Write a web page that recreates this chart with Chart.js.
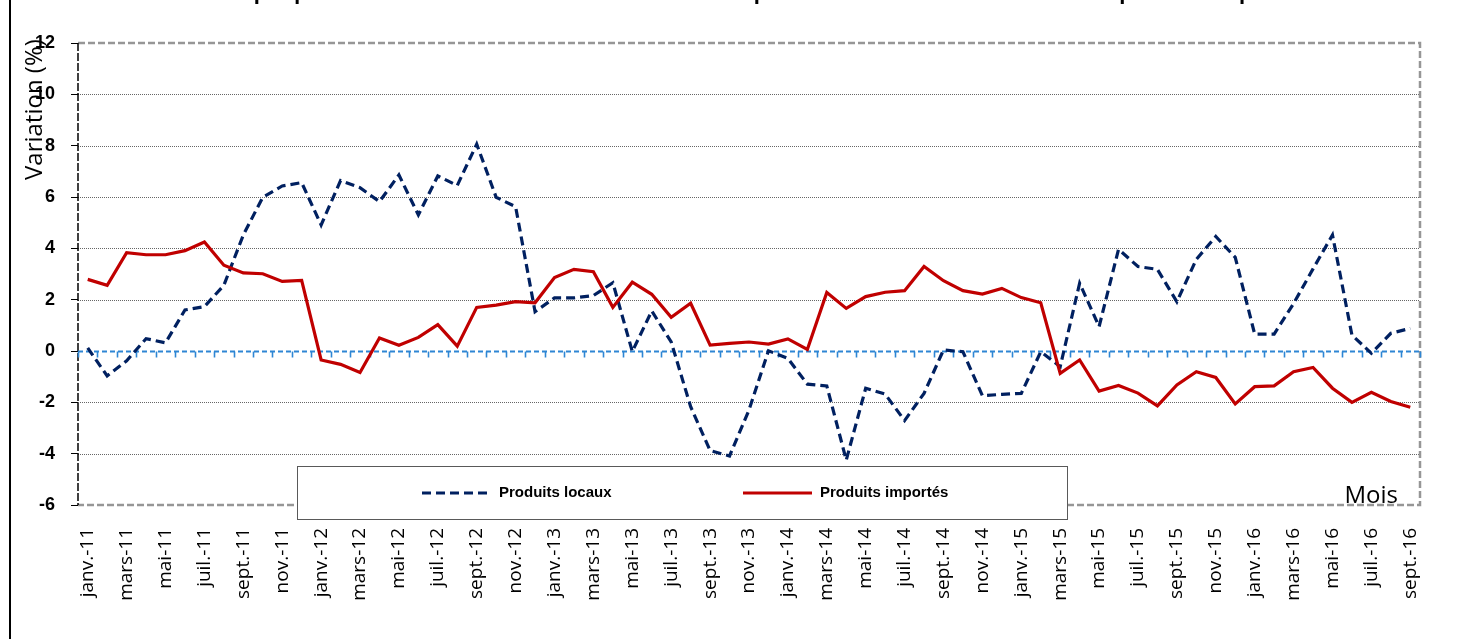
<!DOCTYPE html>
<html lang="fr">
<head>
<meta charset="utf-8">
<title>Produits locaux et produits importés</title>
<script src="https://cdn.jsdelivr.net/npm/chart.js@4.4.1/dist/chart.umd.min.js"></script>
<style>
    html, body { margin: 0; padding: 0; background: #fff; overflow: hidden; }
    #wrap { position: relative; width: 1471px; height: 639px; }
</style>
</head>
<body>
<div id="wrap"><canvas id="mainChart"></canvas></div>
<script>
// Catégories (mois de janv.-11 à sept.-16)
const moisNoms = ['janv.', 'févr.', 'mars', 'avr.', 'mai', 'juin', 'juil.', 'août', 'sept.', 'oct.', 'nov.', 'déc.'];
const annees = ['11', '12', '13', '14', '15', '16'];
const dernierMois = 9; // sept.-16

// Séries (variation en %)
const produitsLocaux = [
    0.12, -0.97, -0.38, 0.48, 0.32, 1.60, 1.73, 2.56, 4.52, 5.99, 6.43, 6.56,
    4.91, 6.64, 6.36, 5.82, 6.86, 5.30, 6.82, 6.45, 8.06, 5.99, 5.62, 1.53,
    2.07, 2.07, 2.16, 2.66, -0.02, 1.56, 0.35, -2.17, -3.88, -4.09, -2.30, 0.01,
    -0.29, -1.29, -1.36, -4.25, -1.45, -1.68, -2.71, -1.65, 0.04, -0.03, -1.74, -1.69,
    -1.65, -0.03, -0.61, 2.64, 0.95, 3.96, 3.29, 3.18, 1.92, 3.57, 4.46, 3.65,
    0.66, 0.66, 1.85, 3.20, 4.52, 0.62, -0.09, 0.69, 0.88
];
const produitsImportes = [
    2.79, 2.56, 3.83, 3.75, 3.75, 3.91, 4.25, 3.34, 3.04, 3.01, 2.71, 2.75,
    -0.35, -0.52, -0.84, 0.51, 0.22, 0.53, 1.03, 0.19, 1.70, 1.79, 1.92, 1.88,
    2.86, 3.18, 3.09, 1.70, 2.68, 2.21, 1.31, 1.86, 0.23, 0.30, 0.35, 0.27,
    0.47, 0.06, 2.28, 1.66, 2.12, 2.29, 2.35, 3.29, 2.74, 2.35, 2.22, 2.44,
    2.08, 1.88, -0.87, -0.35, -1.56, -1.34, -1.64, -2.14, -1.32, -0.81, -1.03, -2.06,
    -1.39, -1.36, -0.81, -0.64, -1.45, -2.00, -1.61, -1.97, -2.19
];

// Axe des ordonnées
const yMin = -6, yMax = 12, yPas = 2;

const titre = 'Graphique 1 : Croissance annuelle des indices des produits locaux et des indices des produits importés';
const titreAxeY = 'Variation (%)';
const titreAxeX = 'Mois';

const labels = [];
annees.forEach((a, k) => {
    moisNoms.forEach((m, j) => {
        if (k === annees.length - 1 && j >= dernierMois) return;
        labels.push(m + '-' + a);
    });
});

const BLEU = '#002060';
const ROUGE = '#C00000';

// Décor : cadre, quadrillage pointillé, ligne du zéro avec graduations
const decor = {
    id: 'decor',
    beforeDatasetsDraw(chart) {
        const { ctx, chartArea: a, scales: { x, y } } = chart;
        ctx.save();

        // bord gauche du cadre
        ctx.strokeStyle = '#000';
        ctx.lineWidth = 2;
        ctx.beginPath(); ctx.moveTo(10, 0); ctx.lineTo(10, chart.height); ctx.stroke();

        // quadrillage
        ctx.strokeStyle = '#666';
        ctx.lineWidth = 1;
        ctx.setLineDash([1, 1]);
        for (let v = yMin + yPas; v < yMax; v += yPas) {
            if (v === 0) continue;
            const py = Math.round(y.getPixelForValue(v)) + 0.5;
            ctx.beginPath(); ctx.moveTo(a.left, py); ctx.lineTo(a.right, py); ctx.stroke();
        }

        // bordure de la zone de traçage
        ctx.strokeStyle = '#969696';
        ctx.lineWidth = 2.5;
        ctx.setLineDash([7, 3]);
        ctx.beginPath();
        ctx.moveTo(a.left, a.top); ctx.lineTo(a.right, a.top);
        ctx.lineTo(a.right, a.bottom); ctx.lineTo(a.left, a.bottom);
        ctx.stroke();

        // axe vertical
        ctx.strokeStyle = '#000';
        ctx.lineWidth = 1.5;
        ctx.setLineDash([8, 2]);
        ctx.beginPath(); ctx.moveTo(a.left, a.top); ctx.lineTo(a.left, a.bottom); ctx.stroke();

        // ligne du zéro
        const y0 = Math.round(y.getPixelForValue(0)) + 0.5;
        ctx.strokeStyle = '#2E86D4';
        ctx.lineWidth = 1.8;
        ctx.setLineDash([5, 3]);
        ctx.beginPath(); ctx.moveTo(a.left, y0); ctx.lineTo(a.right, y0); ctx.stroke();
        ctx.setLineDash([]);
        ctx.lineWidth = 1.6;
        const pas = x.getPixelForValue(1) - x.getPixelForValue(0);
        for (let i = 0; i <= labels.length; i++) {
            const px = Math.round(x.getPixelForValue(0) + (i - 0.5) * pas) + 0.5;
            ctx.beginPath(); ctx.moveTo(px, y0); ctx.lineTo(px, y0 + 6); ctx.stroke();
        }
        ctx.restore();
    },
    afterDraw(chart) {
        const { ctx, chartArea: a } = chart;
        ctx.save();

        // titre (coupé en haut de l'image)
        ctx.fillStyle = '#000';
        ctx.font = 'bold 22px "Liberation Sans", Arial, sans-serif';
        ctx.textAlign = 'center';
        ctx.textBaseline = 'alphabetic';
        ctx.fillText(titre, 761, -1);

        // titre de l'axe Y
        ctx.font = '24px "Open Sans", sans-serif';
        ctx.textAlign = 'left';
        ctx.translate(42, 180);
        ctx.rotate(-Math.PI / 2);
        ctx.fillText(titreAxeY, 0, 0);
        ctx.setTransform(1, 0, 0, 1, 0, 0);

        // titre de l'axe X
        ctx.textAlign = 'right';
        ctx.fillText(titreAxeX, a.right - 22, a.bottom - 2);

        // légende
        const lx = 297, ly = 466, lw = 770, lh = 53, cy = 493;
        ctx.fillStyle = '#fff';
        ctx.fillRect(lx, ly, lw, lh);
        ctx.strokeStyle = '#595959';
        ctx.lineWidth = 1;
        ctx.strokeRect(lx + 0.5, ly + 0.5, lw, lh);

        const items = [
            { ds: chart.data.datasets[0], x: 422 },
            { ds: chart.data.datasets[1], x: 743 }
        ];
        ctx.font = 'bold 15px "Liberation Sans", Arial, sans-serif';
        ctx.textAlign = 'left';
        ctx.textBaseline = 'middle';
        items.forEach(it => {
            ctx.strokeStyle = it.ds.borderColor;
            ctx.lineWidth = it.ds.borderWidth;
            ctx.setLineDash(it.ds.borderDash || []);
            ctx.beginPath(); ctx.moveTo(it.x, cy); ctx.lineTo(it.x + 69, cy); ctx.stroke();
            ctx.setLineDash([]);
            ctx.fillStyle = '#000';
            ctx.fillText(it.ds.label, it.x + 77, cy);
        });
        ctx.restore();
    }
};

new Chart(document.getElementById('mainChart'), {
    type: 'line',
    data: {
        labels: labels,
        datasets: [
            {
                label: 'Produits locaux',
                data: produitsLocaux,
                borderColor: BLEU,
                borderWidth: 3.2,
                borderDash: [9, 5],
                pointRadius: 0,
                tension: 0,
                order: 1
            },
            {
                label: 'Produits importés',
                data: produitsImportes,
                borderColor: ROUGE,
                borderWidth: 3.2,
                pointRadius: 0,
                tension: 0,
                order: 0
            }
        ]
    },
    options: {
        responsive: true,
        maintainAspectRatio: false,
        animation: false,
        layout: { padding: { left: 0, top: 43, right: 51, bottom: 0 } },
        plugins: {
            legend: { display: false },
            title: { display: false },
            tooltip: { enabled: false }
        },
        scales: {
            x: {
                offset: true,
                grid: { display: false, drawTicks: false },
                border: { display: false },
                ticks: {
                    autoSkip: false,
                    minRotation: 90,
                    maxRotation: 90,
                    padding: 23,
                    color: '#000',
                    font: { family: '"Open Sans", sans-serif', size: 19 },
                    callback: function (v, i) { return i % 2 === 0 ? this.getLabelForValue(v) : ''; }
                },
                afterFit: s => { s.height = 134; }
            },
            y: {
                min: yMin,
                max: yMax,
                grid: { display: true, drawOnChartArea: false, drawTicks: true, tickLength: 7, color: '#000' },
                border: { display: false },
                ticks: {
                    stepSize: yPas,
                    padding: 16,
                    color: '#000',
                    font: { family: '"Liberation Sans", Arial, sans-serif', size: 18, weight: 'bold' }
                },
                afterFit: s => { s.width = 78; }
            }
        }
    },
    plugins: [decor]
});
</script>
</body>
</html>
